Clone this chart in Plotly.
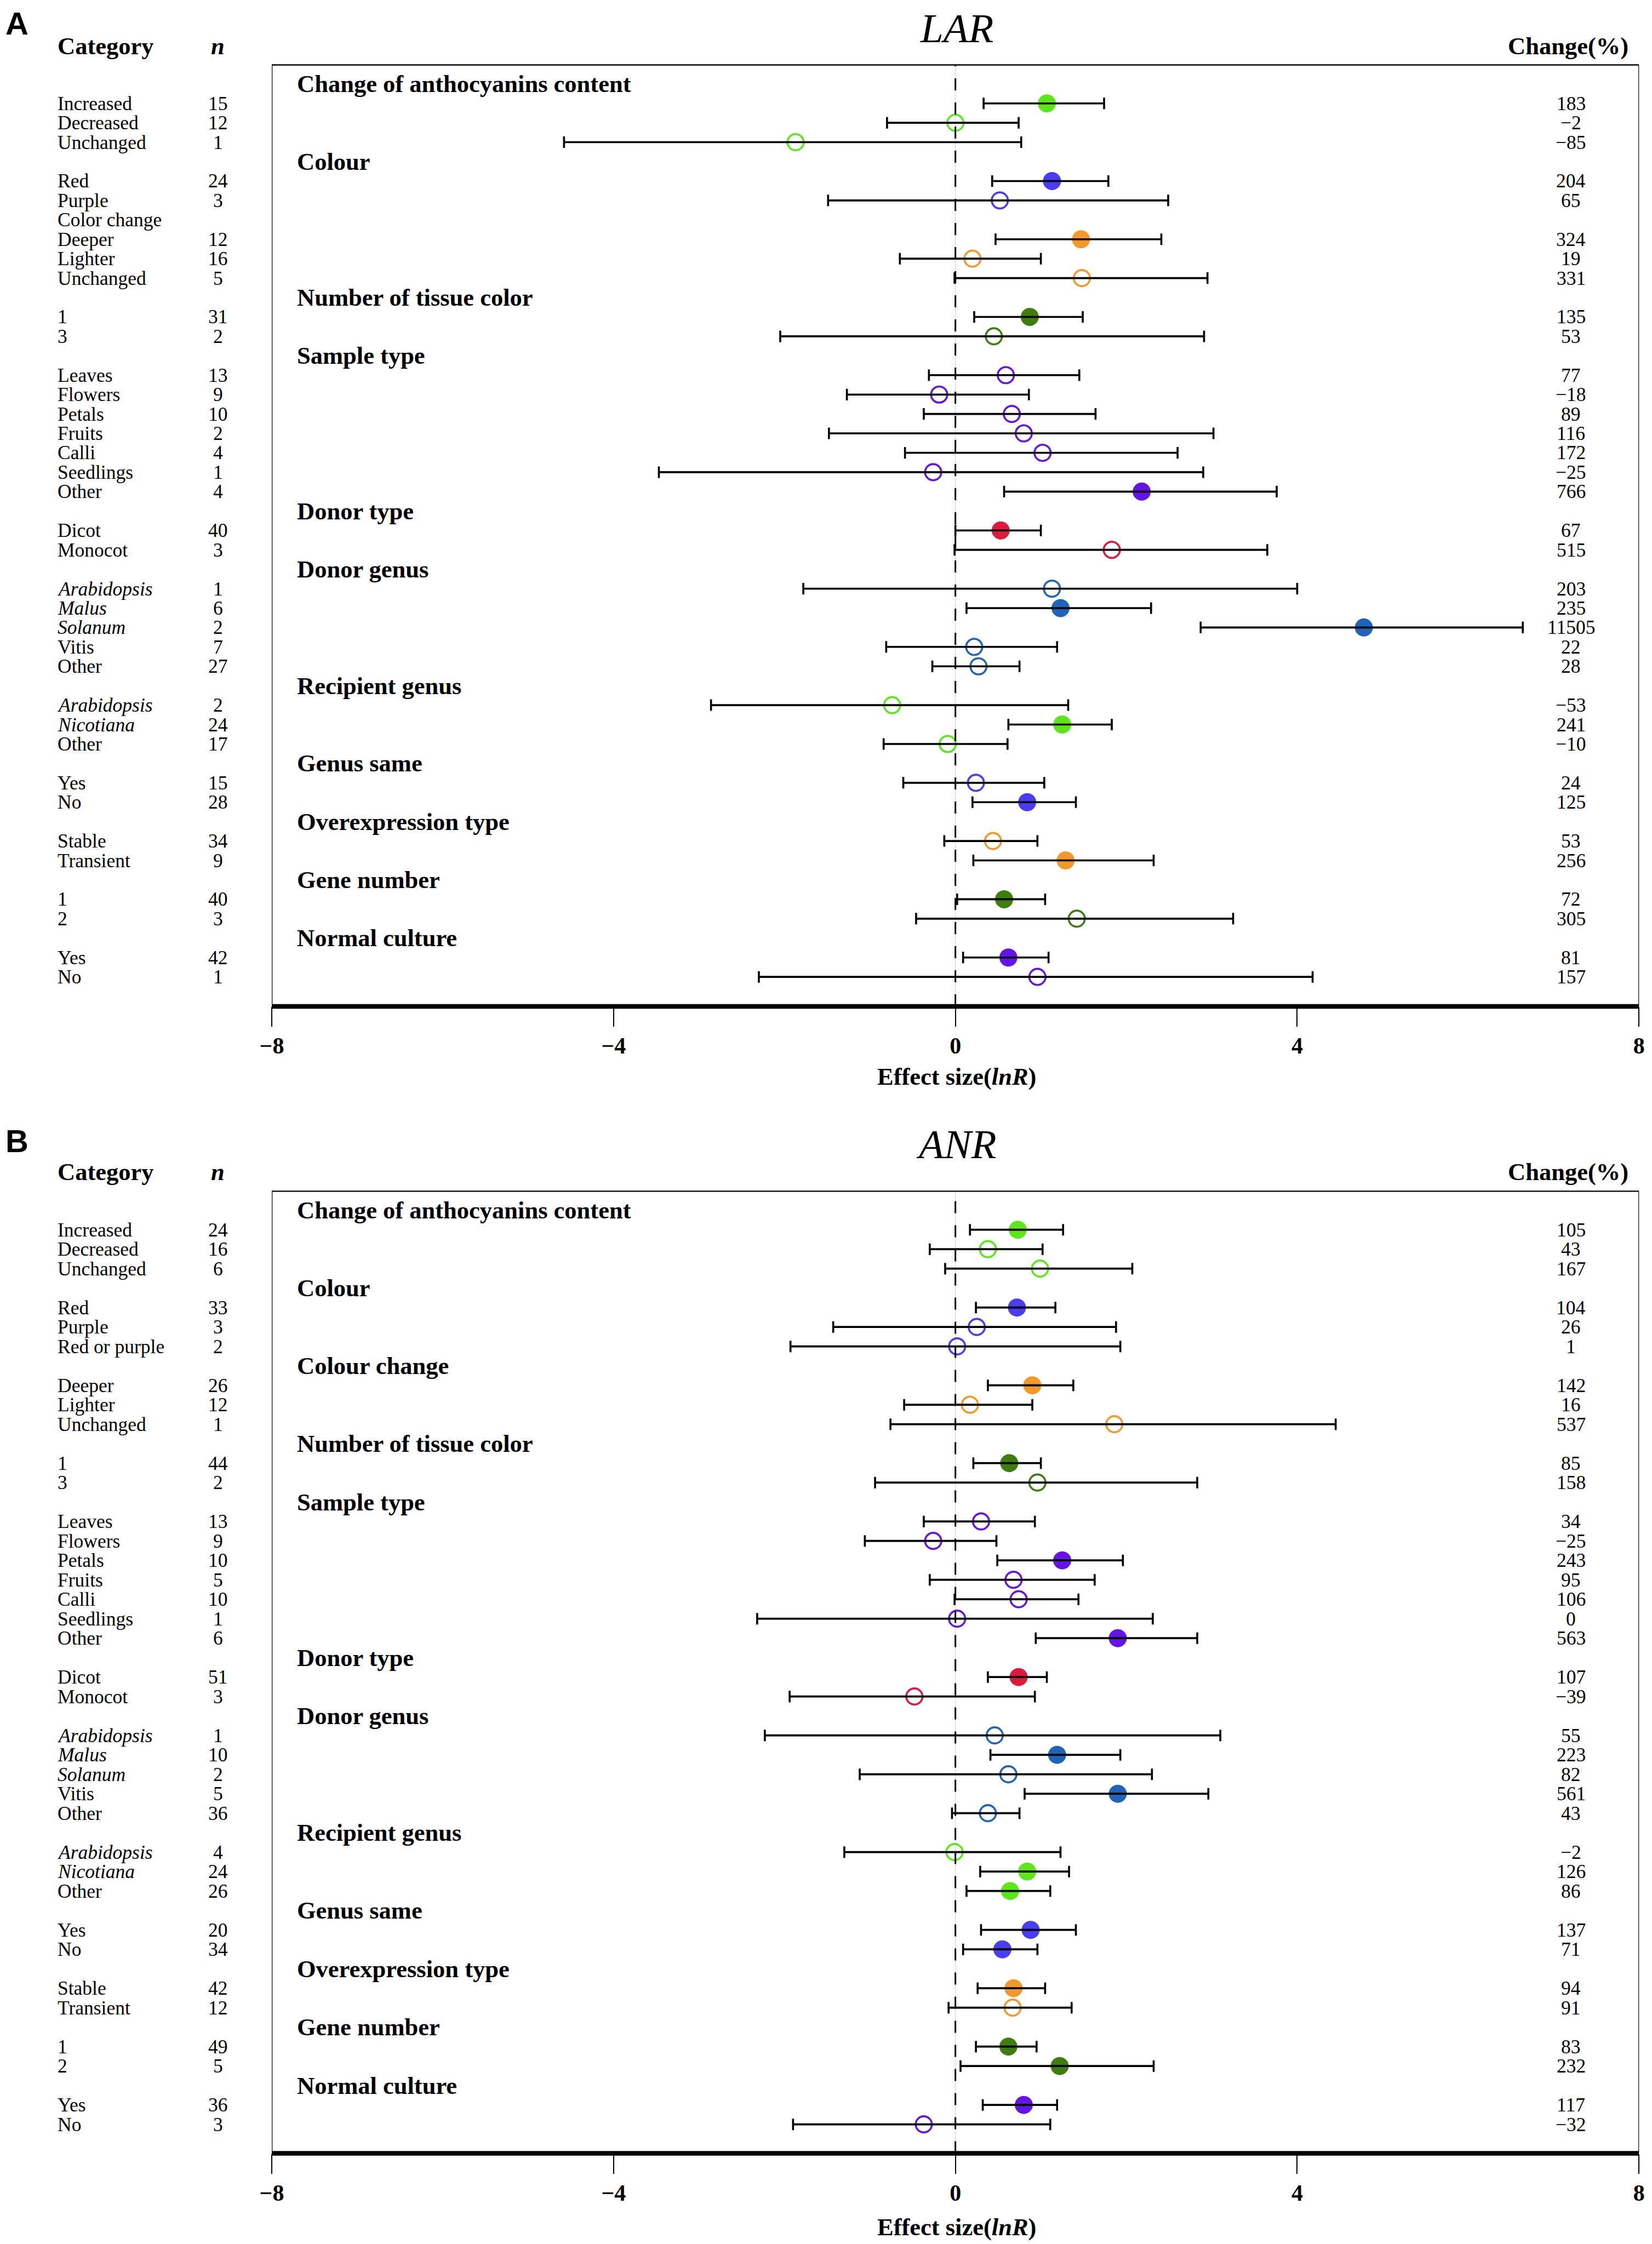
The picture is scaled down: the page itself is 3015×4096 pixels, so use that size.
import plotly.graph_objects as go

W, H = 3015, 4096
S = 0.755   # scale from the reference
OFF = 8     # page offset of the plot inside the browser window


def fx(px):
    return (px * S - OFF) / W


def fy(py):
    return 1 - (py * S - OFF) / H


COL = {
    "green": "#5ee61c",
    "blue": "#4a3cf2",
    "orange": "#f3992c",
    "dkgreen": "#3f7d10",
    "purple": "#6415e6",
    "crimson": "#dc1a40",
    "steel": "#1f64b8",
}

# ---------------- Panel A : LAR ----------------
A_groups = ["Change of anthocyanins content", "Colour", "Number of tissue color", "Sample type",
            "Donor type", "Donor genus", "Recipient genus", "Genus same", "Overexpression type",
            "Gene number", "Normal culture"]
A_sizes = [3, 6, 2, 7, 2, 5, 3, 2, 2, 2, 2]
A_category = ["Increased", "Decreased", "Unchanged",
              "Red", "Purple", "Color change", "Deeper", "Lighter", "Unchanged",
              "1", "3",
              "Leaves", "Flowers", "Petals", "Fruits", "Calli", "Seedlings", "Other",
              "Dicot", "Monocot",
              "<i>Arabidopsis</i>", "<i>Malus</i>", "<i>Solanum</i>", "Vitis", "Other",
              "<i>Arabidopsis</i>", "<i>Nicotiana</i>", "Other",
              "Yes", "No",
              "Stable", "Transient",
              "1", "2",
              "Yes", "No"]
A_n = [15, 12, 1, 24, 3, None, 12, 16, 5, 31, 2, 13, 9, 10, 2, 4, 1, 4, 40, 3,
       1, 6, 2, 7, 27, 2, 24, 17, 15, 28, 34, 9, 40, 3, 42, 1]
A_mean = [1.07, 0.00, -1.87, 1.13, 0.52, None, 1.47, 0.20, 1.48, 0.87, 0.45,
          0.59, -0.19, 0.66, 0.80, 1.02, -0.26, 2.18, 0.53, 1.83,
          1.13, 1.23, 4.78, 0.22, 0.27, -0.74, 1.25, -0.09, 0.24, 0.84,
          0.44, 1.29, 0.57, 1.42, 0.62, 0.96]
A_lo = [0.33, -0.80, -4.58, 0.43, -1.49, None, 0.47, -0.65, -0.01, 0.22, -2.05,
        -0.31, -1.27, -0.37, -1.48, -0.59, -3.47, 0.57, 0.00, -0.01,
        -1.78, 0.13, 2.87, -0.81, -0.27, -2.86, 0.62, -0.84, -0.61, 0.20,
        -0.13, 0.21, 0.02, -0.46, 0.09, -2.30]
A_hi = [1.74, 0.74, 0.77, 1.79, 2.49, None, 2.41, 1.00, 2.95, 1.49, 2.91,
        1.45, 0.86, 1.64, 3.02, 2.60, 2.90, 3.76, 1.00, 3.65,
        4.00, 2.29, 6.64, 1.19, 0.75, 1.32, 1.83, 0.61, 1.04, 1.41,
        0.96, 2.32, 1.05, 3.25, 1.09, 4.18]
A_change = ["183", "\u22122", "\u221285", "204", "65", "", "324", "19", "331", "135", "53",
            "77", "\u221218", "89", "116", "172", "\u221225", "766", "67", "515",
            "203", "235", "11505", "22", "28", "\u221253", "241", "\u221210", "24", "125",
            "53", "256", "72", "305", "81", "157"]
A_filled = [1, 0, 0, 1, 0, None, 1, 0, 0, 1, 0,
            0, 0, 0, 0, 0, 0, 1, 1, 0,
            0, 1, 1, 0, 0, 0, 1, 0, 0, 1,
            0, 1, 1, 0, 1, 0]
A_colour = ["green"] * 3 + ["blue"] * 2 + [None] + ["orange"] * 3 + ["dkgreen"] * 2 + \
           ["purple"] * 7 + ["crimson"] * 2 + ["steel"] * 5 + ["green"] * 3 + ["blue"] * 2 + \
           ["orange"] * 2 + ["dkgreen"] * 2 + ["purple"] * 2

# ---------------- Panel B : ANR ----------------
B_groups = ["Change of anthocyanins content", "Colour", "Colour change", "Number of tissue color",
            "Sample type", "Donor type", "Donor genus", "Recipient genus", "Genus same",
            "Overexpression type", "Gene number", "Normal culture"]
B_sizes = [3, 3, 3, 2, 7, 2, 5, 3, 2, 2, 2, 2]
B_category = ["Increased", "Decreased", "Unchanged",
              "Red", "Purple", "Red or purple",
              "Deeper", "Lighter", "Unchanged",
              "1", "3",
              "Leaves", "Flowers", "Petals", "Fruits", "Calli", "Seedlings", "Other",
              "Dicot", "Monocot",
              "<i>Arabidopsis</i>", "<i>Malus</i>", "<i>Solanum</i>", "Vitis", "Other",
              "<i>Arabidopsis</i>", "<i>Nicotiana</i>", "Other",
              "Yes", "No",
              "Stable", "Transient",
              "1", "2",
              "Yes", "No"]
B_n = [24, 16, 6, 33, 3, 2, 26, 12, 1, 44, 2, 13, 9, 10, 5, 10, 1, 6, 51, 3,
       1, 10, 2, 5, 36, 4, 24, 26, 20, 34, 42, 12, 49, 5, 36, 3]
B_mean = [0.73, 0.38, 0.99, 0.72, 0.25, 0.02, 0.90, 0.17, 1.86, 0.63, 0.96,
          0.30, -0.26, 1.25, 0.68, 0.74, 0.02, 1.90, 0.74, -0.48,
          0.46, 1.19, 0.62, 1.90, 0.38, -0.01, 0.84, 0.64, 0.88, 0.55,
          0.68, 0.67, 0.62, 1.22, 0.80, -0.37]
B_lo = [0.17, -0.30, -0.12, 0.24, -1.43, -1.93, 0.38, -0.60, -0.76, 0.21, -0.94,
        -0.37, -1.06, 0.49, -0.30, -0.01, -2.32, 0.94, 0.38, -1.94,
        -2.23, 0.41, -1.12, 0.81, -0.04, -1.30, 0.29, 0.13, 0.30, 0.09,
        0.26, -0.08, 0.24, 0.06, 0.32, -1.90]
B_hi = [1.26, 1.02, 2.07, 1.17, 1.88, 1.93, 1.38, 0.90, 4.45, 1.00, 2.83,
        0.93, 0.48, 1.96, 1.63, 1.44, 2.31, 2.83, 1.07, 0.93,
        3.10, 1.93, 2.30, 2.96, 0.75, 1.23, 1.33, 1.11, 1.41, 0.96,
        1.05, 1.36, 0.95, 2.32, 1.19, 1.11]
B_change = ["105", "43", "167", "104", "26", "1", "142", "16", "537", "85", "158",
            "34", "\u221225", "243", "95", "106", "0", "563", "107", "\u221239",
            "55", "223", "82", "561", "43", "\u22122", "126", "86", "137", "71",
            "94", "91", "83", "232", "117", "\u221232"]
B_filled = [1, 0, 0, 1, 0, 0, 1, 0, 0, 1, 0,
            0, 0, 1, 0, 0, 0, 1, 1, 0,
            0, 1, 0, 1, 0, 0, 1, 1, 1, 1,
            1, 0, 1, 1, 1, 0]
B_colour = ["green"] * 3 + ["blue"] * 3 + ["orange"] * 3 + ["dkgreen"] * 2 + \
           ["purple"] * 7 + ["crimson"] * 2 + ["steel"] * 5 + ["green"] * 3 + ["blue"] * 2 + \
           ["orange"] * 2 + ["dkgreen"] * 2 + ["purple"] * 2

TICKS = [-8, -4, 0, 4, 8]

SERIF = "Liberation Serif, Times New Roman, serif"
LBL = 35.5
HDR = 44.5

fig = go.Figure()
annotations = []
shapes = []


def build_panel(k, title, groups, sizes, cats, ns, means, los, his, changes, filled, colours,
                box_top, axis_y, first_row_y, step, title_y, title_anchor, head_y, letter,
                letter_y, letter_anchor, xtitle_y):
    xa = "x" if k == 1 else "x2"
    ya = "y" if k == 1 else "y2"
    r = 0
    header_rows = []
    item_rows = []
    for s in sizes:
        header_rows.append(r)
        r += 1
        for _ in range(s):
            item_rows.append(r)
            r += 1
    keys = []
    for c, f in zip(colours, filled):
        if c is not None and (c, f) not in keys:
            keys.append((c, f))
    for c, f in keys:
        xs = [m for m, cc, ff in zip(means, colours, filled) if cc == c and ff == f]
        ys = [rr for rr, cc, ff in zip(item_rows, colours, filled) if cc == c and ff == f]
        fig.add_trace(go.Scatter(
            x=xs, y=ys, xaxis=xa, yaxis=ya, mode="markers", showlegend=False, hoverinfo="skip",
            marker=dict(symbol="circle" if f else "circle-open",
                        size=33 if f else 29.5,
                        color=COL[c],
                        line=dict(width=0 if f else 3.6, color=COL[c]))))
    ex, ey, ep, em = [], [], [], []
    for m, lo, hi, rr in zip(means, los, his, item_rows):
        if m is None:
            continue
        ex.append(m)
        ey.append(rr)
        ep.append(hi - m)
        em.append(m - lo)
    fig.add_trace(go.Scatter(
        x=ex, y=ey, xaxis=xa, yaxis=ya, mode="markers", showlegend=False, hoverinfo="skip",
        marker=dict(size=2, opacity=0, color="black"),
        error_x=dict(type="data", symmetric=False, array=ep, arrayminus=em,
                     color="black", thickness=3.6, width=10.5)))

    for g, rr in zip(groups, header_rows):
        annotations.append(dict(x=fx(715), xref="paper", y=rr, yref=ya, text="<b>%s</b>" % g,
                                xanchor="left", yanchor="middle", showarrow=False,
                                font=dict(family=SERIF, size=HDR, color="black")))
    for cat, n, ch, rr in zip(cats, ns, changes, item_rows):
        annotations.append(dict(x=fx(136), xref="paper", y=rr, yref=ya, text=cat,
                                xanchor="left", yanchor="middle", showarrow=False,
                                font=dict(family=SERIF, size=LBL, color="black")))
        if n is not None:
            annotations.append(dict(x=fx(527), xref="paper", y=rr, yref=ya, text=str(n),
                                    xanchor="center", yanchor="middle", showarrow=False,
                                    font=dict(family=SERIF, size=LBL, color="black")))
        if ch:
            annotations.append(dict(x=fx(3798), xref="paper", y=rr, yref=ya, text=ch,
                                    xanchor="center", yanchor="middle", showarrow=False,
                                    font=dict(family=SERIF, size=LBL, color="black")))
    annotations.append(dict(x=fx(136), y=fy(head_y), xref="paper", yref="paper",
                            text="<b>Category</b>", xanchor="left", yanchor="middle",
                            showarrow=False, font=dict(family=SERIF, size=HDR, color="black")))
    annotations.append(dict(x=fx(527), y=fy(head_y), xref="paper", yref="paper",
                            text="<b><i>n</i></b>", xanchor="center", yanchor="middle",
                            showarrow=False, font=dict(family=SERIF, size=HDR, color="black")))
    annotations.append(dict(x=fx(3791), y=fy(head_y), xref="paper", yref="paper",
                            text="<b>Change(%)</b>", xanchor="center", yanchor="middle",
                            showarrow=False, font=dict(family=SERIF, size=HDR, color="black")))
    ty = 1.0 if title_anchor == "top" else fy(title_y)
    annotations.append(dict(x=fx(2312), y=ty, xref="paper", yref="paper",
                            text="<i>%s</i>" % title, xanchor="center", yanchor=title_anchor,
                            showarrow=False, font=dict(family=SERIF, size=75, color="black")))
    ly = 1.0 if letter_anchor == "top" else fy(letter_y)
    annotations.append(dict(x=0, y=ly, xref="paper", yref="paper",
                            text="<b>%s</b>" % letter, xanchor="left", yanchor=letter_anchor,
                            showarrow=False,
                            font=dict(family="Liberation Sans, Arial, sans-serif", size=58,
                                      color="black")))
    annotations.append(dict(x=fx(2312), y=fy(xtitle_y), xref="paper", yref="paper",
                            text="<b>Effect size(<i>lnR</i>)</b>", xanchor="center",
                            yanchor="middle", showarrow=False,
                            font=dict(family=SERIF, size=HDR, color="black")))

    xd = xa
    ydom = ya + " domain"
    shapes.append(dict(type="line", xref=xd, yref=ydom, x0=0, x1=0, y0=0, y1=1,
                       line=dict(color="#dddddd", width=1.5), layer="below"))
    shapes.append(dict(type="line", xref=xd, yref=ydom, x0=0, x1=0, y0=0, y1=1,
                       line=dict(color="black", width=3, dash="22px,22px")))
    shapes.append(dict(type="line", xref=xd, yref=ydom, x0=-8, x1=-8, y0=0, y1=1,
                       line=dict(color="black", width=2.4)))
    shapes.append(dict(type="line", xref=xd, yref=ydom, x0=8, x1=8, y0=0, y1=1,
                       line=dict(color="black", width=2.4)))
    shapes.append(dict(type="line", xref=xd, yref=ydom, x0=-8, x1=8, y0=1, y1=1,
                       line=dict(color="black", width=2.4)))
    shapes.append(dict(type="line", xref=xd, yref=ydom, x0=-8, x1=8, y0=0, y1=0,
                       line=dict(color="black", width=8.5)))

    top = (box_top - first_row_y) / step
    bottom = (axis_y - first_row_y) / step
    return [bottom, top]


rangeA = build_panel(1, "LAR", A_groups, A_sizes, A_category, A_n, A_mean, A_lo, A_hi,
                     A_change, A_filled, A_colour,
                     box_top=157, axis_y=2433, first_row_y=203, step=46.93,
                     title_y=0, title_anchor="top", head_y=111, letter="A", letter_y=0,
                     letter_anchor="top", xtitle_y=2603)
rangeB = build_panel(2, "ANR", B_groups, B_sizes, B_category, B_n, B_mean, B_lo, B_hi,
                     B_change, B_filled, B_colour,
                     box_top=2880, axis_y=5206, first_row_y=2926, step=47.02,
                     title_y=2766, title_anchor="middle", head_y=2833, letter="B",
                     letter_y=2758, letter_anchor="middle", xtitle_y=5384)

xcommon = dict(range=[-8, 8], domain=[fx(657), fx(3962)], tickmode="array", tickvals=TICKS,
               ticktext=["\u2212%d" % abs(t) if t < 0 else str(t) for t in TICKS],
               ticks="outside", ticklen=36, tickwidth=2.4, tickcolor="black",
               showgrid=False, zeroline=False, showline=False, ticklabelstandoff=-1,
               automargin=False,
               tickfont=dict(family=SERIF, size=42, color="black", weight="bold"))
ycommon = dict(showgrid=False, zeroline=False, showline=False, showticklabels=False, ticks="",
               automargin=False)

fig.update_layout(
    template="none",
    autosize=False,
    width=W, height=H, margin=dict(l=0, r=0, t=0, b=0, pad=0, autoexpand=False),
    paper_bgcolor="white", plot_bgcolor="white", showlegend=False,
    xaxis=dict(anchor="y", **xcommon),
    xaxis2=dict(anchor="y2", **xcommon),
    yaxis=dict(anchor="x", domain=[fy(2433), fy(157)], range=rangeA, **ycommon),
    yaxis2=dict(anchor="x2", domain=[fy(5206), fy(2880)], range=rangeB, **ycommon),
    annotations=annotations, shapes=shapes,
)

fig.write_html("out.html")
